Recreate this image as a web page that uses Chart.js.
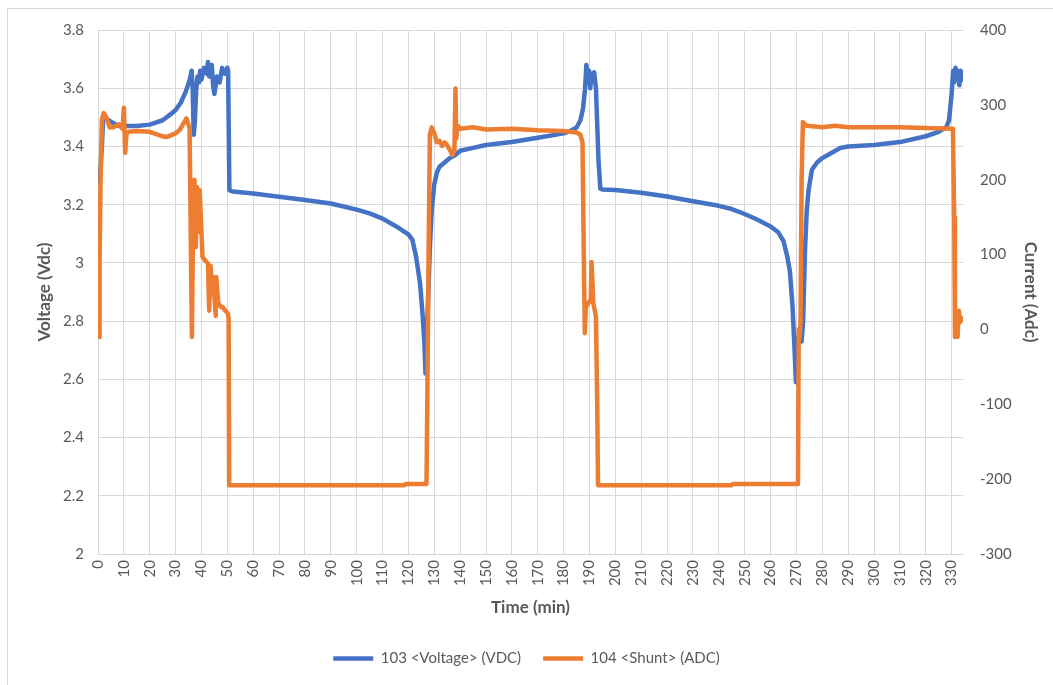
<!DOCTYPE html>
<html>
<head>
<meta charset="utf-8">
<script src="https://cdn.jsdelivr.net/npm/chart.js@4"></script>
<style>
  html, body { margin: 0; padding: 0; background: #ffffff; }
  #wrap { width: 1053px; height: 685px; position: relative; }
</style>
</head>
<body>
<div id="wrap"><canvas id="graficoBateria"></canvas></div>
<script>
// tempos (min) e tensão (Vdc)
const voltTime = [0, 0.5, 1, 1.5, 2, 2.5, 4, 6, 8, 10, 15, 20, 25, 28, 30, 32, 34, 35.5, 36.2, 36.6, 37, 37.4, 38, 38.5, 39, 39.5, 40, 41, 42, 42.5, 43, 44, 44.5, 45, 46, 47, 48, 49, 50, 50.3, 50.8, 52, 60, 70, 80, 90, 100, 105, 110, 115, 120, 121.5, 123, 124.5, 125.5, 126.2, 126.6, 127, 127.5, 128.3, 129, 130, 131, 132, 134, 136, 138, 140, 145, 150, 160, 170, 180, 183, 185, 186.5, 187.5, 188.3, 188.8, 189.3, 189.8, 190.3, 190.8, 191.3, 191.8, 192.5, 193.5, 194.2, 195, 200, 210, 220, 230, 240, 245, 250, 255, 260, 263, 265, 266.5, 267.5, 268.5, 269.3, 269.8, 270.5, 271, 272, 272.6, 273.3, 274, 274.7, 276, 278, 280, 283, 287, 290, 300, 310, 320, 325, 328, 329, 330, 330.6, 331, 331.5, 332, 332.5, 333, 333.5, 334];
const voltValues = [3.28, 3.30, 3.33, 3.40, 3.50, 3.50, 3.49, 3.48, 3.47, 3.47, 3.47, 3.475, 3.49, 3.51, 3.525, 3.55, 3.59, 3.63, 3.66, 3.60, 3.44, 3.48, 3.60, 3.64, 3.62, 3.66, 3.63, 3.67, 3.65, 3.69, 3.64, 3.68, 3.61, 3.58, 3.64, 3.62, 3.67, 3.65, 3.67, 3.66, 3.25, 3.245, 3.238, 3.227, 3.216, 3.204, 3.183, 3.17, 3.152, 3.127, 3.098, 3.08, 3.02, 2.93, 2.82, 2.72, 2.62, 2.74, 2.85, 3.05, 3.18, 3.27, 3.31, 3.33, 3.345, 3.36, 3.37, 3.385, 3.395, 3.405, 3.415, 3.43, 3.445, 3.455, 3.465, 3.49, 3.53, 3.60, 3.68, 3.62, 3.66, 3.60, 3.65, 3.63, 3.655, 3.60, 3.35, 3.255, 3.252, 3.25, 3.241, 3.228, 3.212, 3.196, 3.185, 3.168, 3.148, 3.125, 3.105, 3.075, 3.02, 2.97, 2.85, 2.70, 2.59, 2.73, 2.75, 2.73, 2.80, 3.04, 3.18, 3.25, 3.32, 3.345, 3.36, 3.375, 3.395, 3.40, 3.405, 3.415, 3.435, 3.45, 3.467, 3.49, 3.58, 3.66, 3.62, 3.67, 3.63, 3.66, 3.61, 3.66, 3.63];

// tempos (min) e corrente (Adc)
const currTime = [0, 0.4, 0.6, 1, 1.5, 2.2, 3, 4.5, 6, 8, 9.5, 10, 10.5, 11, 12, 15, 20, 25, 26.5, 30, 31.5, 34.2, 35.4, 36.3, 36.8, 37.3, 37.8, 38.3, 38.8, 39.3, 40.4, 41.2, 42.5, 43, 43.5, 44, 44.5, 45, 45.5, 45.7, 46.5, 47.5, 48.2, 49, 50.1, 50.5, 50.7, 60, 80, 100, 118.5, 118.8, 127, 127.3, 127.8, 128.3, 129, 130, 131, 132, 133, 134, 135, 136, 137, 137.8, 138.2, 138.5, 139, 140, 145, 150, 160, 170, 180, 185, 186.5, 187.3, 187.8, 188.2, 188.6, 190.5, 190.8, 191.5, 192.5, 193, 193.3, 200, 220, 245, 245.5, 260, 270.6, 270.9, 271.2, 271.6, 272, 272.5, 274, 280, 285, 290, 300, 310, 320, 330.5, 331, 331.3, 331.8, 332.3, 332.8, 333.3, 334];
const currValues = [-10, -10, 90, 200, 280, 289, 285, 270, 270, 274, 268, 296, 236, 262, 264, 265, 264, 258, 257, 262, 266, 282, 269, -10, 160, 200, 110, 190, 130, 186, 97, 93, 88, 25, 85, 60, 70, 45, 18, 70, 35, 30, 30, 26, 22, 15, -208, -208, -208, -208, -208, -206.5, -206.5, -100, 100, 260, 270, 262, 250, 252, 245, 250, 246, 240, 233, 240, 322, 255, 272, 268, 270, 267, 268, 266, 265, 263, 260, 250, 100, -5, 30, 40, 90, 35, 17, -100, -208, -208, -208, -208, -206.5, -206.5, -206.5, 0, -12, 10, 200, 277, 272, 270, 272, 270, 270, 270, 269, 268, 150, -10, 20, -10, 25, 10, 15];

// limites dos eixos
const timeAxis = [0, 334.4, 10];      // min, max, passo
const voltAxis = [2, 3.8, 0.2];
const currAxis = [-300, 400, 100];

const fonte = "Lato, 'Open Sans', sans-serif";
const cinzaTexto = '#595959';
const cinzaGrade = '#d9d9d9';

const paraPontos = (xs, ys) => xs.map((t, i) => ({ x: t, y: ys[i] }));

// moldura cinza do gráfico (como no Excel)
const moldura = {
  id: 'moldura',
  beforeDraw(chart) {
    const ctx = chart.ctx;
    ctx.save();
    ctx.strokeStyle = cinzaGrade;
    ctx.lineWidth = 1;
    ctx.strokeRect(7.5, 8.5, 1100, 800);
    ctx.restore();
  }
};

document.addEventListener('DOMContentLoaded', () => {
  const ctx = document.getElementById('graficoBateria');

  new Chart(ctx, {
    type: 'line',
    data: {
      datasets: [
        {
          label: '103 <Voltage> (VDC)',
          data: paraPontos(voltTime, voltValues),
          borderColor: '#4472C4',
          backgroundColor: '#4472C4',
          borderWidth: 4.5,
          borderCapStyle: 'round',
          borderJoinStyle: 'round',
          pointRadius: 0,
          tension: 0,
          yAxisID: 'y',
          order: 1
        },
        {
          label: '104 <Shunt> (ADC)',
          data: paraPontos(currTime, currValues),
          borderColor: '#ED7D31',
          backgroundColor: '#ED7D31',
          borderWidth: 4.5,
          borderCapStyle: 'round',
          borderJoinStyle: 'round',
          pointRadius: 0,
          tension: 0,
          yAxisID: 'y1',
          order: 0
        }
      ]
    },
    options: {
      responsive: true,
      maintainAspectRatio: false,
      animation: false,
      layout: { padding: { top: 30, left: 0, right: 0, bottom: 9 } },
      plugins: {
        tooltip: { enabled: false },
        legend: {
          position: 'bottom',
          labels: {
            usePointStyle: true,
            pointStyle: 'line',
            pointStyleWidth: 40,
            padding: 22,
            color: cinzaTexto,
            font: { family: fonte, size: 15 },
            sort: (a, b) => a.datasetIndex - b.datasetIndex
          }
        }
      },
      scales: {
        x: {
          type: 'linear',
          min: timeAxis[0],
          max: timeAxis[1],
          afterFit: s => { s.height = 75; },
          ticks: {
            stepSize: timeAxis[2],
            includeBounds: false,
            minRotation: 90,
            maxRotation: 90,
            padding: 6,
            color: cinzaTexto,
            font: { family: fonte, size: 15 }
          },
          grid: { color: cinzaGrade, drawTicks: false },
          border: { color: cinzaGrade },
          title: {
            display: true,
            text: 'Time (min)',
            color: cinzaTexto,
            font: { family: fonte, size: 17, weight: 'bold' },
            padding: { top: 0, bottom: 11 }
          }
        },
        y: {
          position: 'left',
          min: voltAxis[0],
          max: voltAxis[1],
          afterFit: s => { s.width = 98; },
          ticks: {
            stepSize: voltAxis[2],
            padding: 14,
            color: cinzaTexto,
            font: { family: fonte, size: 15 },
            callback: v => String(+Number(v).toFixed(1))
          },
          grid: { color: cinzaGrade, drawTicks: false },
          border: { display: false },
          title: {
            display: true,
            text: 'Voltage (Vdc)',
            color: cinzaTexto,
            font: { family: fonte, size: 17, weight: 'bold' },
            padding: { top: 34, bottom: 0 }
          }
        },
        y1: {
          position: 'right',
          min: currAxis[0],
          max: currAxis[1],
          afterFit: s => { s.width = 90; },
          ticks: {
            stepSize: currAxis[2],
            padding: 17,
            color: cinzaTexto,
            font: { family: fonte, size: 15 },
            callback: v => String(Math.round(v))
          },
          grid: { display: false, drawTicks: false },
          border: { display: false },
          title: {
            display: true,
            text: 'Current (Adc)',
            color: cinzaTexto,
            font: { family: fonte, size: 17, weight: 'bold' },
            padding: { top: 12, bottom: 0 }
          }
        }
      }
    },
    plugins: [moldura]
  });
});
</script>
</body>
</html>
